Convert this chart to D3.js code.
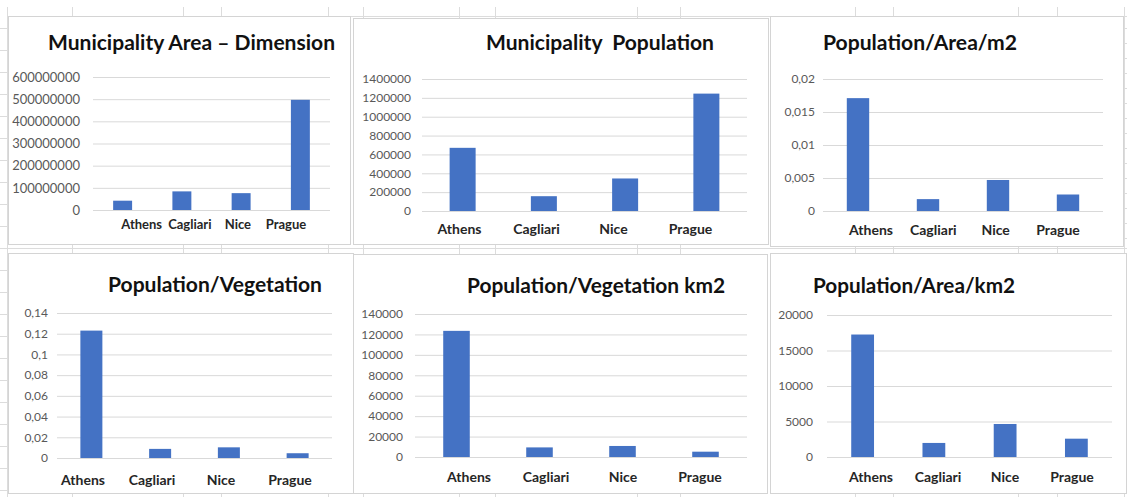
<!DOCTYPE html>
<html>
<head>
<meta charset="utf-8">
<script src="https://cdn.jsdelivr.net/npm/d3@7"></script>
<style>
  body { margin: 0; background: #fff; }
  svg { display: block; font-family: Lato, "Open Sans", sans-serif; }
</style>
</head>
<body>
<svg id="chart" width="1127" height="497"></svg>
<script>
// data
const cities = ["Athens", "Cagliari", "Nice", "Prague"];

const areaM2       = [42000000, 84000000, 76000000, 497000000];
const population   = [670000, 157000, 345000, 1245000];
const popPerM2     = [0.0171, 0.0018, 0.0047, 0.0025];
const popPerVeg    = [0.123, 0.0088, 0.0103, 0.0046];
const popPerVegKm2 = [123500, 9400, 10800, 5200];
const popPerKm2    = [17250, 1980, 4650, 2580];

const areaTicks   = [0, 100000000, 200000000, 300000000, 400000000, 500000000, 600000000];
const popTicks    = [0, 200000, 400000, 600000, 800000, 1000000, 1200000, 1400000];
const m2Ticks     = [0, 0.005, 0.01, 0.015, 0.02];
const vegTicks    = [0, 0.02, 0.04, 0.06, 0.08, 0.1, 0.12, 0.14];
const vegKm2Ticks = [0, 20000, 40000, 60000, 80000, 100000, 120000, 140000];
const km2Ticks    = [0, 5000, 10000, 15000, 20000];

// panel layout (screen positions only)
const panels = [
  {title: "Municipality Area \u2013 Dimension", values: areaM2, ticks: areaTicks,
   box: [8, 16, 342, 228], plot: [93, 330, 77, 210], titleAt: [191.5, 50, 287],
   tickEnd: 80, tickFont: 13, labelY: 224, labelFont: 13, labelRange: [141.7, 286]},
  {title: "Municipality\u00a0 Population", values: population, ticks: popTicks,
   box: [353, 18, 415, 226], plot: [422, 747, 79, 211], titleAt: [600, 50, 228],
   tickEnd: 411, tickFont: 12, labelY: 229, labelFont: 14, labelRange: [459.5, 690.5]},
  {title: "Population/Area/m2", values: popPerM2, ticks: m2Ticks,
   box: [770, 16, 353, 230], plot: [823, 1103, 79, 211], titleAt: [920, 50, 194],
   tickEnd: 815, tickFont: 12, labelY: 230, labelFont: 14, labelRange: [871, 1058]},
  {title: "Population/Vegetation", values: popPerVeg, ticks: vegTicks,
   box: [8, 253, 345, 240], plot: [57, 332, 313, 458], titleAt: [215, 292, 214],
   tickEnd: 48, tickFont: 12, labelY: 480, labelFont: 14, labelRange: [83, 290]},
  {title: "Population/Vegetation km2", values: popPerVegKm2, ticks: vegKm2Ticks,
   box: [353, 254, 414, 239], plot: [415, 747, 314, 457], titleAt: [596, 293, 258],
   tickEnd: 403, tickFont: 12, labelY: 477, labelFont: 14, labelRange: [469, 700]},
  {title: "Population/Area/km2", values: popPerKm2, ticks: km2Ticks,
   box: [770, 253, 356, 240], plot: [827, 1112, 315, 457], titleAt: [914, 293, 202],
   tickEnd: 813, tickFont: 12, labelY: 477, labelFont: 14, labelRange: [871, 1072]}
];

const svg = d3.select("#chart");
const W = 1127, H = 497;

// faint spreadsheet grid behind the charts
const bg = svg.append("g").attr("stroke", "#dcdcdc").attr("stroke-width", 1);
[7, 72, 183, 221, 328, 363, 459, 495, 637, 680, 855, 893, 1018, 1057, 1124].forEach(x => {
  bg.append("line").attr("x1", x + 0.5).attr("x2", x + 0.5).attr("y1", 7).attr("y2", H);
});
[16, 248].forEach(y => {
  bg.append("line").attr("x1", 7).attr("x2", W).attr("y1", y + 0.5).attr("y2", y + 0.5);
});
d3.range(28, H, 22).forEach(y => {
  bg.append("line").attr("x1", 0).attr("x2", 8).attr("y1", y + 0.5).attr("y2", y + 0.5);
});
d3.range(28, H, 15).forEach(y => {
  bg.append("line").attr("x1", 1122).attr("x2", W).attr("y1", y + 0.5).attr("y2", y + 0.5);
});

const fmt = d => String(d).replace(".", ",");

panels.forEach(p => {
  const g = svg.append("g");
  const [bx, by, bw, bh] = p.box;
  const [x0, x1, yTop, yBase] = p.plot;

  g.append("rect")
    .attr("x", bx + 0.5).attr("y", by + 0.5)
    .attr("width", bw).attr("height", bh)
    .attr("fill", "#fff").attr("stroke", "#d4d4d4");

  const x = d3.scaleBand()
    .domain(cities)
    .range([x0, x1])
    .paddingInner(0.68)
    .paddingOuter(0.34);

  const y = d3.scaleLinear()
    .domain([0, d3.max(p.ticks)])
    .range([yBase, yTop]);

  const labelX = d3.scalePoint()
    .domain(cities)
    .range(p.labelRange);

  // y axis with gridlines
  const yAxis = d3.axisLeft(y)
    .tickValues(p.ticks)
    .tickSize(-(x1 - x0))
    .tickPadding(x0 - p.tickEnd)
    .tickFormat(fmt);

  const ay = g.append("g")
    .attr("transform", `translate(${x0},0)`)
    .call(yAxis);
  ay.select(".domain").remove();
  ay.selectAll(".tick line").attr("stroke", "#d9d9d9");
  ay.selectAll(".tick text")
    .attr("fill", "#595959")
    .style("font-size", p.tickFont + "px")
    .style("font-family", "Lato, sans-serif");

  // bars
  g.selectAll("rect.bar")
    .data(p.values)
    .enter()
    .append("rect")
      .attr("class", "bar")
      .attr("x", (d, i) => x(cities[i]))
      .attr("y", d => y(d))
      .attr("width", x.bandwidth())
      .attr("height", d => y(0) - y(d))
      .attr("fill", "#4472c4");

  // category labels
  g.selectAll("text.cat")
    .data(cities)
    .enter()
    .append("text")
      .attr("class", "cat")
      .attr("x", d => labelX(d))
      .attr("y", p.labelY)
      .attr("dy", "0.35em")
      .attr("text-anchor", "middle")
      .attr("fill", "#262626")
      .style("font-size", p.labelFont + "px")
      .style("font-weight", "bold")
      .text(d => d);

  // title
  const [tx, ty, tw] = p.titleAt;
  g.append("text")
    .attr("x", tx - tw / 2)
    .attr("y", ty)
    .attr("textLength", tw)
    .attr("lengthAdjust", "spacingAndGlyphs")
    .attr("fill", "#111")
    .style("font-size", "21px")
    .style("font-weight", "bold")
    .text(p.title);
});
</script>
</body>
</html>
